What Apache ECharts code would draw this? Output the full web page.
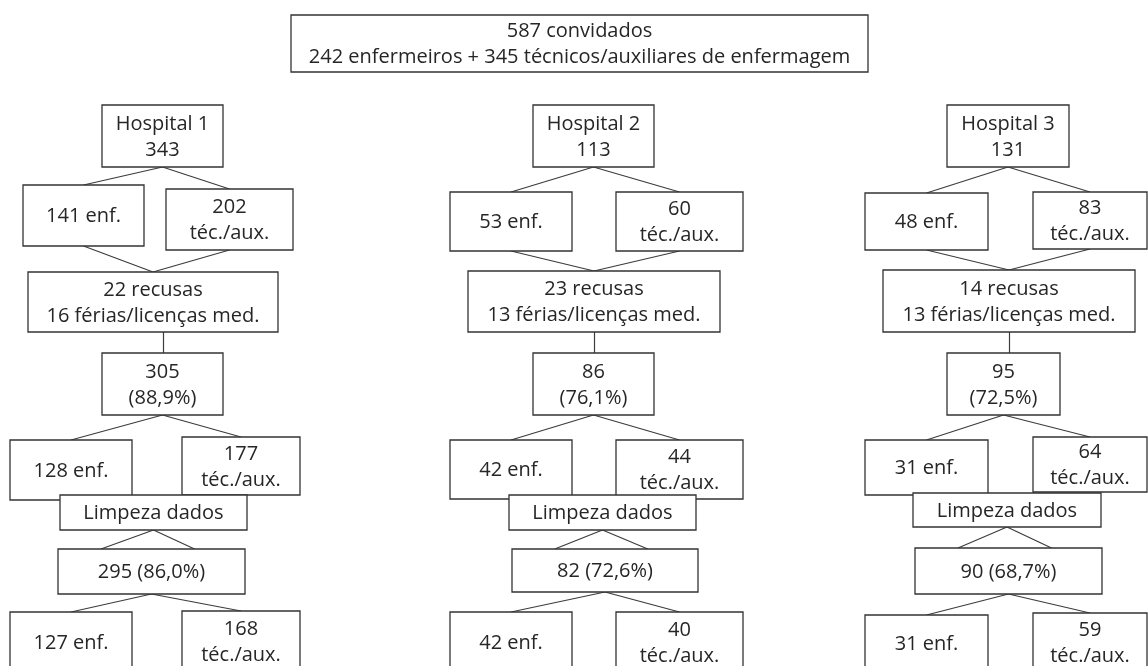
<!DOCTYPE html>
<html>
<head>
<meta charset="utf-8">
<script src="https://cdn.jsdelivr.net/npm/echarts@6/dist/echarts.min.js"></script>
<style>
  html, body { margin: 0; padding: 0; background: #fff; }
  #chart { width: 1148px; height: 666px; }
</style>
</head>
<body>
<div id="chart"></div>
<script>
// --- data ---
const totalInvited = 587;
const totalEnf = 242;
const totalTec = 345;
const hospitals = ['Hospital 1', 'Hospital 2', 'Hospital 3'];
const invited = [343, 113, 131];
const invitedEnf = [141, 53, 48];
const invitedTec = [202, 60, 83];
const refusals = [22, 23, 14];
const leaves = [16, 13, 13];
const respondents = [305, 86, 95];
const respondentsPct = ['88,9%', '76,1%', '72,5%'];
const respondentsEnf = [128, 42, 31];
const respondentsTec = [177, 44, 64];
const finalSample = [295, 82, 90];
const finalPct = ['86,0%', '72,6%', '68,7%'];
const finalEnf = [127, 42, 31];
const finalTec = [168, 40, 59];

// --- layout: boxes as [x1, y1, x2, y2] on a 1148 x 666 value grid ---
const topBox = [291, 15, 868, 72];
const layout = [
  { hosp: [102, 105, 223, 167], enf1: [23, 185, 144, 246], tec1: [166, 189, 293, 250],
    ref: [28, 272, 278, 332], resp: [102, 353, 223, 415], stem: 163,
    enf2: [10, 440, 132, 500], tec2: [182, 437, 300, 495], clean: [60, 495, 247, 530],
    fin: [58, 549, 245, 594], enf3: [10, 612, 132, 672], tec3: [182, 611, 300, 672] },
  { hosp: [533, 105, 654, 167], enf1: [450, 192, 572, 251], tec1: [616, 192, 743, 251],
    ref: [468, 271, 720, 332], resp: [533, 353, 654, 415], stem: 594,
    enf2: [450, 440, 572, 499], tec2: [616, 440, 743, 499], clean: [509, 495, 696, 530],
    fin: [512, 549, 698, 592], enf3: [450, 612, 572, 672], tec3: [616, 612, 743, 672] },
  { hosp: [947, 105, 1069, 167], enf1: [865, 193, 988, 250], tec1: [1033, 192, 1147, 249],
    ref: [883, 270, 1135, 332], resp: [947, 353, 1060, 415], stem: 1009,
    enf2: [865, 440, 988, 495], tec2: [1033, 437, 1147, 492], clean: [913, 493, 1101, 527],
    fin: [915, 548, 1102, 594], enf3: [865, 615, 988, 672], tec3: [1033, 613, 1147, 672] }
];

// --- build boxes and connectors ---
const boxes = [];
const links = [];
const botC = b => [(b[0] + b[2]) / 2, b[3]];
const topC = b => [(b[0] + b[2]) / 2, b[1]];
const topAt = (b, f) => [b[0] + (b[2] - b[0]) * f, b[1]];

boxes.push({ value: topBox, label: totalInvited + ' convidados\n' + totalEnf + ' enfermeiros + ' + totalTec + ' técnicos/auxiliares de enfermagem' });

layout.forEach((L, i) => {
  boxes.push({ value: L.hosp, label: hospitals[i] + '\n' + invited[i] });
  boxes.push({ value: L.enf1, label: invitedEnf[i] + ' enf.' });
  boxes.push({ value: L.tec1, label: invitedTec[i] + '\ntéc./aux.' });
  boxes.push({ value: L.ref, label: refusals[i] + ' recusas\n' + leaves[i] + ' férias/licenças med.' });
  boxes.push({ value: L.resp, label: respondents[i] + '\n(' + respondentsPct[i] + ')' });
  boxes.push({ value: L.enf2, label: respondentsEnf[i] + ' enf.' });
  boxes.push({ value: L.tec2, label: respondentsTec[i] + '\ntéc./aux.' });
  boxes.push({ value: L.clean, label: 'Limpeza dados' });
  boxes.push({ value: L.fin, label: finalSample[i] + ' (' + finalPct[i] + ')' });
  boxes.push({ value: L.enf3, label: finalEnf[i] + ' enf.' });
  boxes.push({ value: L.tec3, label: finalTec[i] + '\ntéc./aux.' });

  links.push([botC(L.hosp), topC(L.enf1)], [botC(L.hosp), topC(L.tec1)]);
  links.push([botC(L.enf1), topC(L.ref)], [botC(L.tec1), topC(L.ref)]);
  links.push([[L.stem, L.ref[3]], [L.stem, L.resp[1]]]);
  links.push([botC(L.resp), topC(L.enf2)], [botC(L.resp), topC(L.tec2)]);
  links.push([botC(L.clean), topAt(L.fin, 0.23)], [botC(L.clean), topAt(L.fin, 0.73)]);
  links.push([botC(L.fin), topC(L.enf3)], [botC(L.fin), topC(L.tec3)]);
});

const chart = echarts.init(document.getElementById('chart'));

const option = {
  animation: false,
  grid: { left: 0, right: 0, top: 0, bottom: 0 },
  xAxis: { type: 'value', min: 0, max: 1148, show: false },
  yAxis: { type: 'value', min: 0, max: 666, inverse: true, show: false },
  series: [
    {
      type: 'lines',
      coordinateSystem: 'cartesian2d',
      z: 1,
      silent: true,
      lineStyle: { color: '#3c3c3c', width: 1.2, opacity: 1 },
      data: links.map(c => ({ coords: c }))
    },
    {
      type: 'custom',
      z: 2,
      silent: true,
      renderItem: (params, api) => {
        const p1 = api.coord([api.value(0), api.value(1)]);
        const p2 = api.coord([api.value(2), api.value(3)]);
        return {
          type: 'group',
          children: [
            {
              type: 'rect',
              shape: { x: p1[0], y: p1[1], width: p2[0] - p1[0], height: p2[1] - p1[1] },
              style: { fill: '#fff', stroke: '#333', lineWidth: 1.3 }
            },
            {
              type: 'text',
              style: {
                text: boxes[params.dataIndex].label,
                x: (p1[0] + p2[0]) / 2,
                y: (p1[1] + p2[1]) / 2 + 1,
                align: 'center',
                verticalAlign: 'middle',
                fontFamily: 'Open Sans',
                fontSize: 20,
                lineHeight: 26,
                fill: '#262626'
              }
            }
          ]
        };
      },
      data: boxes.map(b => b.value)
    }
  ]
};

chart.setOption(option);
</script>
</body>
</html>
